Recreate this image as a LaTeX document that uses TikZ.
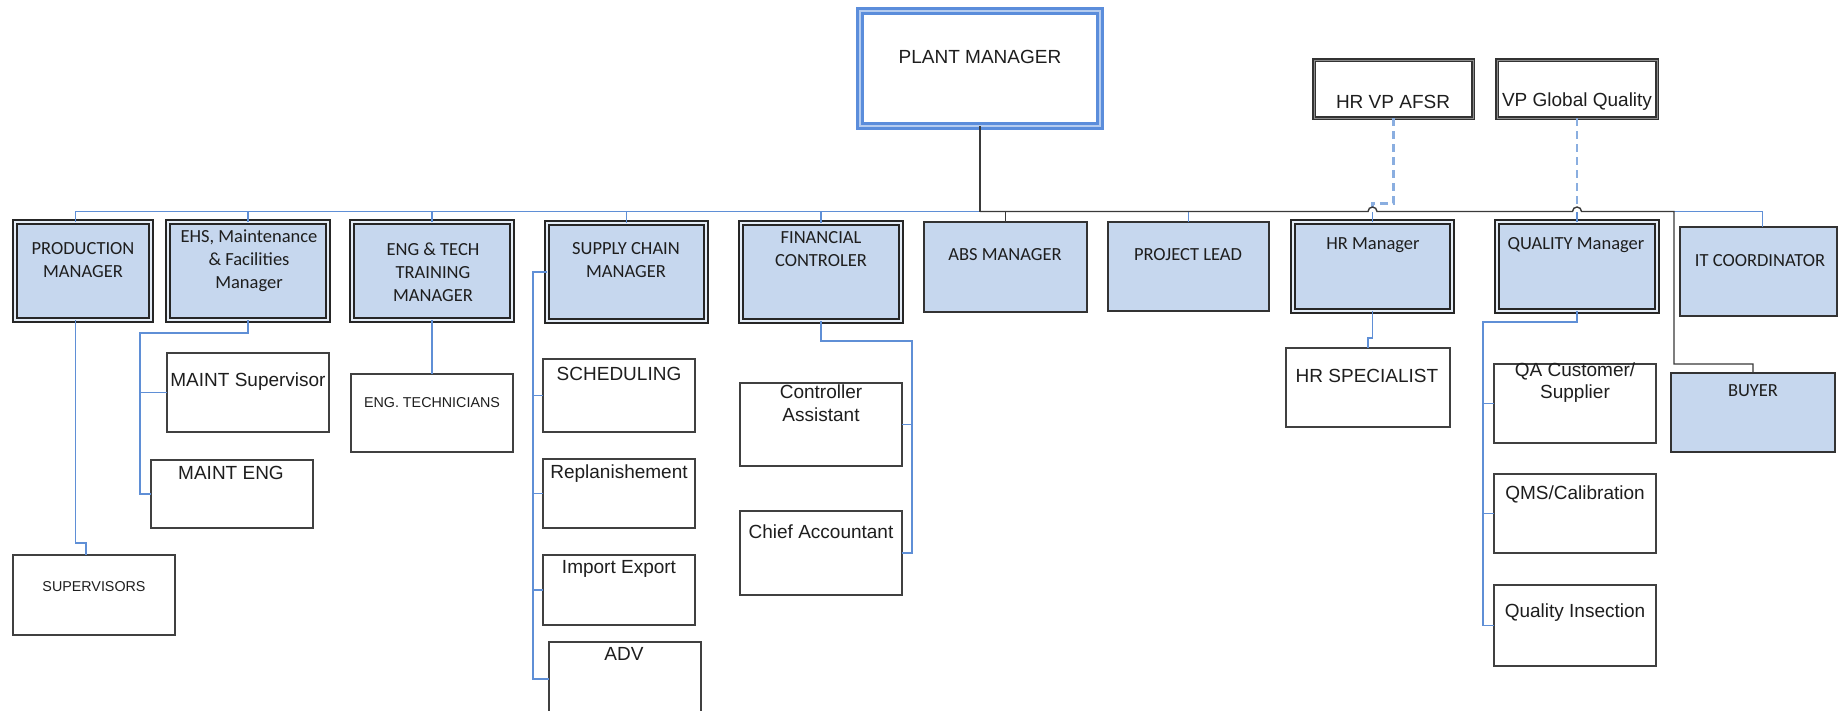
\documentclass[tikz,border=0pt]{standalone}
\usepackage{fontspec}
\setmainfont{Liberation Sans}
\newfontfamily\calfont{Carlito}
\definecolor{boxfill}{HTML}{C6D7EE}
\definecolor{linkblue}{HTML}{5F8FD6}
\definecolor{dashblue}{HTML}{8AAEE0}
\definecolor{pmblue}{HTML}{5B8DDB}
\definecolor{busgray}{HTML}{3A3A3A}
\definecolor{ink}{HTML}{1E1E1E}

\newcommand\fArial{\fontsize{19}{22.5}\selectfont}
\newcommand\fSmall{\fontsize{14.3}{17}\selectfont}
\newcommand\fCal{\calfont\fontsize{18.5}{23}\selectfont}

% box given by its corners (x1,y1) (x2,y2), y counted downwards
\newcommand\orgbox[6][]{%
  \node[#1, minimum width={(#5-#3)*1pt}, minimum height={(#6-#4)*1pt}]
    (#2) at ({(#3+#5)/2},{(#4+#6)/2}) {};}
\newcommand\orgtext[5][]{\node[txt,#1] (#2) at (#3,#4) {#5};}

\tikzset{
  every node/.style={inner sep=0pt, outer sep=0pt},
  txt/.style={align=center, text=ink, font=\fArial},
  caltxt/.style={font=\fCal},
  smalltxt/.style={font=\fSmall},
  pmbox/.style={rectangle, draw=pmblue, line width=2.4pt, double=pmblue!45!white,
    double distance=2.4pt, fill=white},
  vpbox/.style={rectangle, draw=black!80, line width=1.7pt, double=black!45,
    double distance=1.0pt, fill=white},
  mgrbox/.style={rectangle, draw=black!85, line width=1.7pt, double=boxfill!45!white,
    double distance=1.8pt, fill=boxfill},
  leadbox/.style={rectangle, draw=black!80, line width=1.8pt, fill=boxfill},
  subbox/.style={rectangle, draw=black!75, line width=1.6pt, fill=white},
  link/.style={draw=linkblue, line width=1.4pt},
  bus/.style={draw=busgray, line width=1.4pt},
  dashlink/.style={draw=dashblue, line width=2.2pt, dash pattern=on 8pt off 5pt},
}

\begin{document}
\begin{tikzpicture}[x=1pt, y=-1pt]
\useasboundingbox (0,0) rectangle (1839,710);
\clip (0,0) rectangle (1839,710);
\fill[white] (0,0) rectangle (1839,710);

% ---- top level
\orgbox[pmbox]{pm}{860}{11}{1100}{126}
\orgtext{pmT}{980}{57}{PLANT MANAGER}
\orgbox[vpbox]{hrvp}{1314}{60}{1473}{118}
\orgtext{hrvpT}{1393}{102}{HR VP AFSR}
\orgbox[vpbox]{vpgq}{1497}{60}{1657}{118}
\orgtext{vpgqT}{1577}{102}{VP Global Quality}

% ---- managers row
\orgbox[mgrbox]{prod}{15}{222}{151}{320}
\orgtext[caltxt]{prodT}{83}{260.5}{PRODUCTION\\MANAGER}
\orgbox[mgrbox]{ehs}{168}{222}{328}{320}
\orgtext[caltxt]{ehsT}{249}{261}{EHS, Maintenance\\\& Facilities\\Manager}
\orgbox[mgrbox]{eng}{352}{222}{512}{320}
\orgtext[caltxt]{engT}{433}{272}{ENG \& TECH\\TRAINING\\MANAGER}
\orgbox[mgrbox]{supply}{547}{223}{706}{321}
\orgtext[caltxt]{supplyT}{626}{260.5}{SUPPLY CHAIN\\MANAGER}
\orgbox[mgrbox]{fin}{741}{223}{901}{321}
\orgtext[caltxt]{finT}{821}{249}{FINANCIAL\\CONTROLER}
\orgbox[leadbox]{abs}{924}{222}{1087}{312}
\orgtext[caltxt]{absT}{1005}{255}{ABS MANAGER}
\orgbox[leadbox]{proj}{1108}{222}{1269}{311}
\orgtext[caltxt]{projT}{1188}{255}{PROJECT LEAD}
\orgbox[mgrbox]{hrm}{1293}{222}{1452}{311}
\orgtext[caltxt]{hrmT}{1373}{245}{HR Manager}
\orgbox[mgrbox]{qual}{1497}{222}{1657}{311}
\orgtext[caltxt]{qualT}{1576}{245}{QUALITY Manager}
\orgbox[leadbox]{it}{1680}{227}{1837}{316}
\orgtext[caltxt]{itT}{1760}{261}{IT COORDINATOR}

% ---- staff boxes
\orgbox[subbox]{sup}{13}{555}{175}{635}
\orgtext[smalltxt]{supT}{94}{587}{SUPERVISORS}
\orgbox[subbox]{maintSup}{167}{353}{329}{432}
\orgtext{maintSupT}{248}{382}{MAINT Supervisor}
\orgbox[subbox]{maintEng}{151}{460}{313}{528}
\orgtext{maintEngT}{231}{473}{MAINT ENG}
\orgbox[subbox]{engTech}{351}{374}{513}{452}
\orgtext[smalltxt]{engTechT}{432}{403}{ENG. TECHNICIANS}
\orgbox[subbox]{sched}{543}{359}{695}{432}
\orgtext{schedT}{619}{374}{SCHEDULING}
\orgbox[subbox]{repl}{543}{459}{695}{528}
\orgtext{replT}{619}{474}{Replanishement}
\orgbox[subbox]{impexp}{543}{555}{695}{625}
\orgtext{impexpT}{619}{569}{Import Export}
\orgbox[subbox]{adv}{549}{642}{701}{716}
\orgtext{advT}{624}{654}{ADV}
\orgbox[subbox]{ctrl}{740}{383}{902}{466}
\orgtext{ctrlT}{821}{403}{Controller\\Assistant}
\orgbox[subbox]{chief}{740}{511}{902}{595}
\orgtext{chiefT}{821}{532}{Chief Accountant}
\orgbox[subbox]{hrspec}{1286}{348}{1450}{427}
\orgtext{hrspecT}{1367}{376}{HR SPECIALIST}
\orgbox[subbox]{qa}{1494}{364}{1656}{443}
\orgtext{qaT}{1575}{382.5}{QA Customer/\\Supplier}
\orgbox[subbox]{qms}{1494}{474}{1656}{553}
\orgtext{qmsT}{1575}{494}{QMS/Calibration}
\orgbox[subbox]{qinsp}{1494}{585}{1656}{666}
\orgtext{qinspT}{1575}{613}{Quality Insection}
\orgbox[leadbox]{buyer}{1671}{373}{1835}{452}
\orgtext[caltxt]{buyerT}{1753}{391}{BUYER}

% ---- reporting lines from the plant manager
\coordinate (hub) at (pm.south |- 0,211.5);
\coordinate (hopA) at (hrm.north |- hub);
\coordinate (hopB) at (qual.north |- hub);
\coordinate (corner) at (1674,211.5);

\draw[link] (hub) -| ([xshift=-7.5pt]prod.north);
\foreach \n in {ehs,eng,supply,fin}
  \draw[link] (\n.north) -- (\n.north |- hub);
\draw[link] (proj.north) -- (proj.north |- hub);
\draw[link] (hrm.north) -- (hopA);
\draw[link] (qual.north) -- (hopB);
\draw[link] (corner) -| ([xshift=4pt]it.north);
\draw[dashlink] (hrvp.south) |- ([yshift=8pt]hopA) -- ([yshift=5pt]hopA);
\draw[dashlink] (vpgq.south) -- ([yshift=5pt]hopB);

\draw[bus] (pm.south) -- (hub);
\draw[bus] (hub) -- ([xshift=-4.5pt]hopA) arc[start angle=180, end angle=0, radius=4.5pt]
  -- ([xshift=-4.5pt]hopB) arc[start angle=180, end angle=0, radius=4.5pt]
  -- (corner) |- ([yshift=9pt]buyer.north) -- (buyer.north);
\draw[bus] (abs.north) -- (abs.north |- hub);

% ---- lines to staff
\draw[link] ([xshift=-7.5pt]prod.south) -- ++(0,223) -| ([xshift=-8pt]sup.north);

\coordinate (ehsTrunk) at (140,333);
\draw[link] (ehs.south) -- (ehs.south |- ehsTrunk) -- (ehsTrunk) |- (maintEng.west);
\draw[link] (maintSup.west) -- (maintSup.west -| ehsTrunk);

\draw[link] (eng.south) -- (engTech.north);

\coordinate (supTrunk) at (533,272);
\draw[link] (supply.west) -- (supTrunk) |- (adv.west);
\foreach \n in {sched,repl,impexp}
  \draw[link] (\n.west) -- (\n.west -| supTrunk);

\coordinate (finTrunk) at (912,341);
\draw[link] (fin.south) |- (finTrunk) |- (chief.east);
\draw[link] (ctrl.east) -- (ctrl.east -| finTrunk);

\draw[link] (hrm.south) -- ++(0,27) -| (hrspec.north);

\coordinate (qTrunk) at (1483,322);
\draw[link] (qual.south) |- (qTrunk) |- (qinsp.west);
\foreach \n in {qa,qms}
  \draw[link] (\n.west) -- (\n.west -| qTrunk);
\end{tikzpicture}
\end{document}
